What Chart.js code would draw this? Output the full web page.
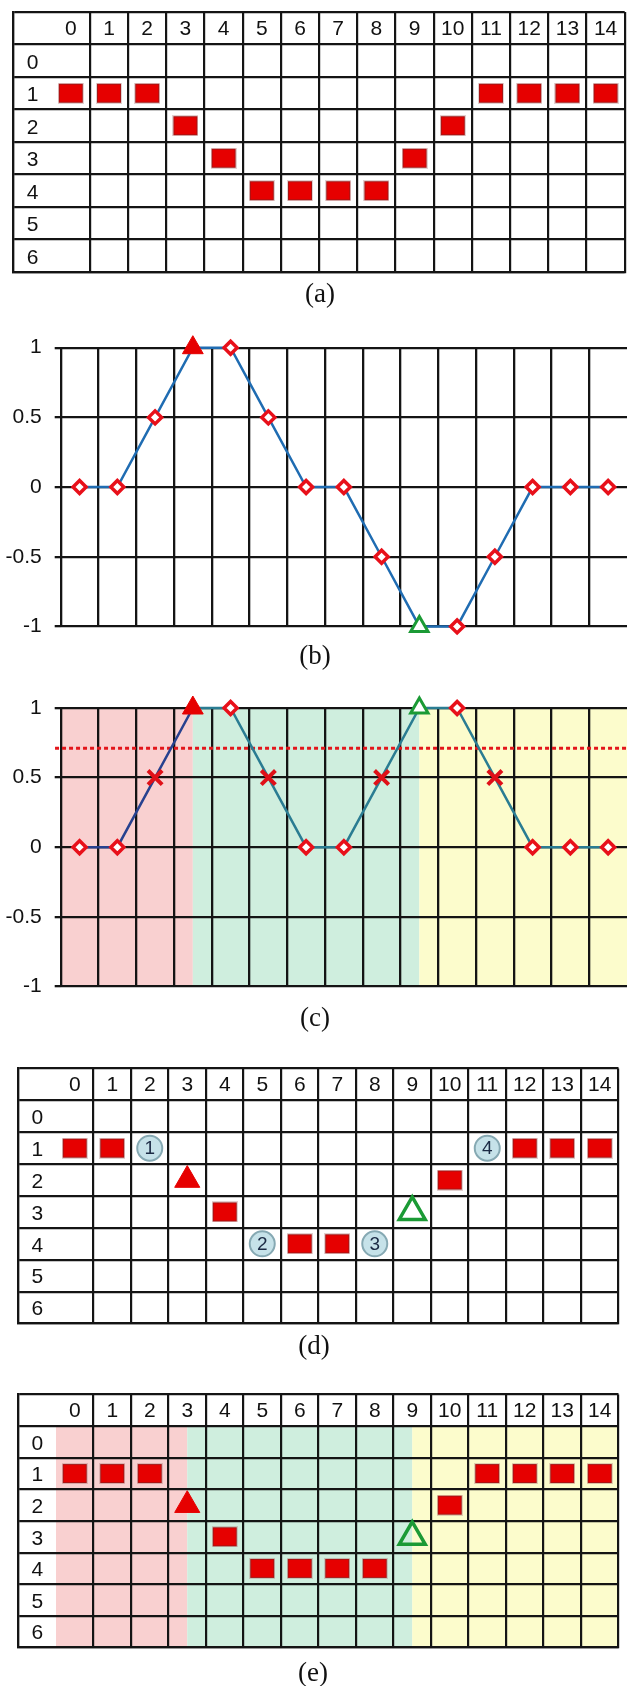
<!DOCTYPE html>
<html><head><meta charset="utf-8">
<script src="https://cdn.jsdelivr.net/npm/chart.js@4/dist/chart.umd.min.js"></script>
<style>
html,body{margin:0;padding:0;background:#fff;}
body{width:637px;height:1686px;position:relative;overflow:hidden;}
canvas{position:absolute;left:0;}
.lbl{position:absolute;font-family:"Liberation Serif","Times New Roman",serif;font-size:27px;color:#111;transform:translate(-50%,-50%);line-height:1;white-space:nowrap;}
</style></head><body>
<canvas id="ca" width="637" height="284" style="top:0px"></canvas>
<canvas id="cb" width="637" height="334" style="top:318px"></canvas>
<canvas id="cc" width="637" height="332" style="top:680px"></canvas>
<canvas id="cd" width="637" height="292" style="top:1050px"></canvas>
<canvas id="ce" width="637" height="290" style="top:1376px"></canvas>
<div class="lbl" style="left:320px;top:293px">(a)</div>
<div class="lbl" style="left:315px;top:655px">(b)</div>
<div class="lbl" style="left:315px;top:1017px">(c)</div>
<div class="lbl" style="left:314px;top:1345px">(d)</div>
<div class="lbl" style="left:313px;top:1672px">(e)</div>
<script>
// ---------- data ----------
const colLabels = ['0','1','2','3','4','5','6','7','8','9','10','11','12','13','14'];
const rowLabels = ['0','1','2','3','4','5','6'];
const rowsA = [1,1,1,2,3,4,4,4,4,3,2,1,1,1,1];
const markersA = ['sq','sq','sq','sq','sq','sq','sq','sq','sq','sq','sq','sq','sq','sq','sq'];
const valuesB = [0,0,0.5,1,1,0.5,0,0,-0.5,-1,-1,-0.5,0,0,0];
const markersB = ['d','d','d','up','d','d','d','d','d','dn','d','d','d','d','d'];
const valuesC = [0,0,0.5,1,1,0.5,0,0,0.5,1,1,0.5,0,0,0];
const markersC = ['d','d','x','up','d','x','d','d','x','dn','d','x','d','d','d'];
const thresholdC = 0.71;
const yTicks = [-1,-0.5,0,0.5,1];
const regionSplits = [3, 9];
const rowsD = [1,1,1,2,3,4,4,4,4,3,2,1,1,1,1];
const markersD = ['sq','sq','badge','up','sq','badge','sq','sq','badge','dn','sq','badge','sq','sq','sq'];
const badgeTextD = ['','','1','','','2','','','3','','','4','','','',''];
const rowsE = [1,1,1,2,3,4,4,4,4,3,2,1,1,1,1];
const markersE = ['sq','sq','sq','up','sq','sq','sq','sq','sq','dn','sq','sq','sq','sq','sq'];

// ---------- styles ----------
Chart.defaults.font.family = '"Liberation Sans", Arial, sans-serif';
Chart.defaults.color = '#111';
const RED = '#e60000', GREEN = '#1b9a35', GRID = '#141414';
const PINK = '#f9d0d0', MINT = '#cfeede', CREAM = '#fcfccc';

const SQ = (function(){
  const c = document.createElement('canvas'); c.width = 26; c.height = 21;
  const g = c.getContext('2d');
  g.fillStyle = 'rgba(170,120,120,0.35)'; g.fillRect(0,0,26,21);
  g.fillStyle = '#a81414'; g.fillRect(1,1,24,19);
  g.fillStyle = RED; g.fillRect(2,2,22,17);
  return c;
})();

function tableStyle(m){
  switch(m){
    case 'badge': return {s:'circle', r:12.5, bg:'#c6e2e9', bc:'#86a9b3', bw:2};
    case 'up': return {s:'triangle', r:14.5, bg:RED, bc:RED, bw:1};
    case 'dn': return {s:'triangle', r:15, bg:'rgba(255,255,255,0)', bc:GREEN, bw:3.5};
    default: return {s:SQ, r:12, bg:RED, bc:RED, bw:0};
  }
}
function lineStyle(m){
  switch(m){
    case 'x': return {s:'crossRot', r:10, bg:'#e8101a', bc:'#e01018', bw:4};
    case 'up': return {s:'triangle', r:12, bg:RED, bc:RED, bw:1};
    case 'dn': return {s:'triangle', r:10, bg:'#ffffff', bc:GREEN, bw:3};
    default: return {s:'rectRot', r:6.5, bg:'#ffffff', bc:'#e8101a', bw:3.5};
  }
}

const regionPlugin = {
  id: 'regions',
  beforeDraw(chart, args, o){
    if (!o || !o.colors) return;
    const {x, y} = chart.scales, ctx = chart.ctx;
    const edges = [o.x0, ...regionSplits, o.x1];
    const t = y.getPixelForValue(o.y0), b = y.getPixelForValue(o.y1);
    ctx.save();
    o.colors.forEach((col, i) => {
      const l = x.getPixelForValue(edges[i]), r = x.getPixelForValue(edges[i+1]);
      ctx.fillStyle = col;
      ctx.fillRect(l, Math.min(t,b), r - l, Math.abs(b - t));
    });
    ctx.restore();
  }
};

const tableTextPlugin = {
  id: 'tableText',
  afterDraw(chart, args, o){
    const {x, y} = chart.scales, ctx = chart.ctx;
    ctx.save();
    ctx.font = '21px "Liberation Sans", Arial, sans-serif';
    ctx.fillStyle = '#111';
    ctx.textAlign = 'center'; ctx.textBaseline = 'middle';
    colLabels.forEach((t, i) => ctx.fillText(t, x.getPixelForValue(i), y.getPixelForValue(-1) + 1));
    rowLabels.forEach((t, r) => ctx.fillText(t, x.getPixelForValue(-1), y.getPixelForValue(r) + 2));
    if (o && o.badges && o.rows) {
      ctx.font = '19px "Liberation Sans", Arial, sans-serif';
      ctx.fillStyle = '#1b2a44';
      o.badges.forEach((t, i) => { if (t) ctx.fillText(t, x.getPixelForValue(i), y.getPixelForValue(o.rows[i]) + 1); });
    }
    ctx.restore();
  }
};

function tableChart(id, padding, rows, markers, extra){
  const st = markers.map(tableStyle);
  const xb = [-1.5, ...colLabels.map((_, i) => i + 0.5)];
  const yb = [-1.5, ...rowLabels.map((_, i) => i - 0.5), rowLabels.length - 0.5];
  return new Chart(document.getElementById(id), {
    type: 'scatter',
    data: { datasets: [{
      data: rows.map((r, i) => ({x: i, y: r})),
      showLine: false, clip: false,
      pointStyle: st.map(s => s.s), pointRadius: st.map(s => s.r), pointHoverRadius: st.map(s => s.r),
      pointBackgroundColor: st.map(s => s.bg), pointBorderColor: st.map(s => s.bc), pointBorderWidth: st.map(s => s.bw)
    }]},
    options: {
      responsive: false, animation: false, events: [],
      layout: { padding },
      plugins: { legend: {display:false}, tooltip: {enabled:false},
        regions: extra.regions || false, tableText: extra.text || {} },
      scales: {
        x: { type:'linear', min:-1.5, max:colLabels.length - 0.5,
             afterBuildTicks: s => { s.ticks = xb.map(v => ({value:v})); },
             ticks:{display:false}, grid:{color:GRID, lineWidth:2.2, drawTicks:false},
             border:{display:true, color:GRID, width:2.2} },
        y: { type:'linear', reverse:true, min:-1.5, max:rowLabels.length - 0.5,
             afterBuildTicks: s => { s.ticks = yb.map(v => ({value:v})); },
             ticks:{display:false}, grid:{color:GRID, lineWidth:2.2, drawTicks:false},
             border:{display:true, color:GRID, width:2.2} }
      }
    },
    plugins: [regionPlugin, tableTextPlugin]
  });
}

function lineChart(id, padding, values, markers, extra){
  const st = markers.map(lineStyle);
  const xb = values.map((_, i) => i - 0.5);
  const datasets = [{
    data: values.map((v, i) => ({x: i, y: v})),
    showLine: true, clip: false,
    borderColor: '#1f6cb2', borderWidth: 2.5,
    segment: extra.segment,
    pointStyle: st.map(s => s.s), pointRadius: st.map(s => s.r), pointHoverRadius: st.map(s => s.r),
    pointBackgroundColor: st.map(s => s.bg), pointBorderColor: st.map(s => s.bc), pointBorderWidth: st.map(s => s.bw)
  }];
  if (extra.threshold !== undefined) {
    datasets.push({
      data: [{x:-0.65, y:extra.threshold}, {x:values.length - 0.45, y:extra.threshold}],
      showLine: true, clip: false, borderColor: '#e3161b', borderWidth: 3, borderDash: [4, 3],
      pointRadius: 0, pointHoverRadius: 0
    });
  }
  return new Chart(document.getElementById(id), {
    type: 'scatter',
    data: { datasets },
    options: {
      responsive: false, animation: false, events: [],
      layout: { padding },
      plugins: { legend:{display:false}, tooltip:{enabled:false}, regions: extra.regions || false },
      scales: {
        x: { type:'linear', min:-0.5, max:values.length - 0.5,
             afterBuildTicks: s => { s.ticks = xb.map(v => ({value:v})); },
             ticks:{display:false}, grid:{color:GRID, lineWidth:2.3, drawTicks:false},
             border:{display:false} },
        y: { type:'linear', min:-1, max:1,
             afterBuildTicks: s => { s.ticks = yTicks.map(v => ({value:v})); },
             afterFit: s => { s.width = 60.7; },
             ticks:{ callback: v => String(v), font:{size:21}, color:'#111', padding:13 },
             grid:{color:GRID, lineWidth:2.3, drawTicks:true, tickLength:6},
             border:{display:false} }
      }
    },
    plugins: [regionPlugin]
  });
}

tableChart('ca', {left:13.5, right:12.3, top:10, bottom:8}, rowsA, markersA, {});
lineChart('cb', {left:0, right:1.8, top:29.7, bottom:14.5}, valuesB, markersB, {});
lineChart('cc', {left:0, right:1.8, top:28, bottom:13.5}, valuesC, markersC, {
  threshold: thresholdC,
  regions: {colors:[PINK, MINT, CREAM], x0:-0.5, x1:valuesC.length - 0.5, y0:1, y1:-1},
  segment: { borderColor: c => c.p0.parsed.x < regionSplits[0] ? '#27418f' : '#2a7c92' }
});
tableChart('cd', {left:18, right:7.3, top:13, bottom:13.7}, rowsD, markersD, {
  text: {badges: badgeTextD, rows: rowsD}
});
tableChart('ce', {left:18, right:7.5, top:13, bottom:12}, rowsE, markersE, {
  regions: {colors:[PINK, MINT, CREAM], x0:-0.5, x1:colLabels.length - 0.5, y0:-0.5, y1:rowLabels.length - 0.5}
});
</script>
</body></html>
